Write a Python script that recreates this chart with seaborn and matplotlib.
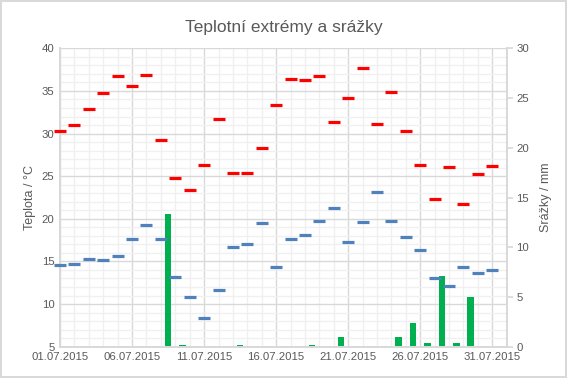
import numpy as np
import pandas as pd
import matplotlib
matplotlib.use("Agg")
import matplotlib.pyplot as plt
import seaborn as sns
from matplotlib.ticker import MultipleLocator, FixedLocator

sns.set_theme(style="white")
plt.rcParams['font.family'] = ['Liberation Sans', 'DejaVu Sans']

dates = pd.date_range("2015-07-01", "2015-07-31", freq="D")
date_labels = [d.strftime("%d.%m.%Y") for d in dates]

t_max = [30.3, 31.0, 32.9, 34.8, 36.8, 35.6, 36.9, 29.2, 24.8, 23.4,
         26.3, 31.7, 25.4, 25.4, 28.3, 33.4, 36.4, 36.3, 36.8, 31.4,
         34.2, 37.7, 31.1, 34.9, 30.3, 26.3, 22.3, 26.1, 21.7, 25.2, 26.2]
t_min = [14.6, 14.7, 15.3, 15.2, 15.6, 17.6, 19.3, 17.6, 13.2, 10.8,
         8.4, 11.6, 16.7, 17.1, 19.5, 14.4, 17.6, 18.1, 19.7, 21.3,
         17.3, 19.6, 23.1, 19.7, 17.9, 16.3, 13.1, 12.1, 14.4, 13.6, 14.0]
precip = [0, 0, 0, 0, 0, 0, 0, 13.3, 0.2, 0,
          0, 0, 0.2, 0, 0, 0, 0, 0.2, 0, 1.0,
          0, 0, 0, 1.0, 2.4, 0.4, 7.1, 0.4, 5.0, 0, 0]

df = pd.DataFrame({"day": np.arange(len(dates)), "tmax": t_max,
                   "tmin": t_min, "precip": precip})

grey = "#595959"
fig = plt.figure(figsize=(5.67, 3.78), dpi=100)
fig.patch.set_facecolor("white")
fig.patch.set_edgecolor("#D9D9D9")
fig.patch.set_linewidth(1.5)
ax = fig.add_axes([0.1058, 0.0828, 0.7879, 0.7894])
ax2 = ax.twinx()

# precipitation bars
ax2.bar(df["day"] + 0.5, df["precip"], width=0.45, color="#00B050",
        linewidth=0, zorder=2)
ax2.set_ylim(0, 30)
ax2.yaxis.set_major_locator(MultipleLocator(5))

# temperature dashes
ax.set_zorder(ax2.get_zorder() + 1)
ax.patch.set_visible(False)
sns.scatterplot(data=df, x="day", y="tmax", marker="_", s=72, linewidth=2.3,
                color="#FF0000", ax=ax, clip_on=False, zorder=3, legend=False)
sns.scatterplot(data=df, x="day", y="tmin", marker="_", s=72, linewidth=2.3,
                color="#4F81BD", ax=ax, clip_on=False, zorder=3, legend=False)

ax.set_xlim(0, 31)
ax.set_ylim(5, 40)
ax.yaxis.set_major_locator(MultipleLocator(5))
ax.yaxis.set_minor_locator(MultipleLocator(1))
major_x = list(range(0, 31, 5))
ax.xaxis.set_major_locator(FixedLocator(major_x))
ax.xaxis.set_minor_locator(MultipleLocator(1))
ax.set_xticklabels([date_labels[i] for i in major_x])

# grid drawn on the lower (bar) axes so it sits behind bars
ax.grid(False)
for x in range(0, 32):
    ax2.axvline(x, color="#D9D9D9" if x % 5 == 0 else "#F0F0F0", lw=1.0, zorder=0)
for yv in range(5, 41):
    y2 = (yv - 5) / 35 * 30
    ax2.axhline(y2, color="#D9D9D9" if yv % 5 == 0 else "#F0F0F0", lw=1.0, zorder=0)

ax.set_xlabel("")
ax.set_ylabel("Teplota / °C", color=grey, fontsize=9)
ax2.set_ylabel("Srážky / mm", color=grey, fontsize=9, rotation=90, labelpad=8)
ax.set_title("Teplotní extrémy a srážky", color=grey, fontsize=12.5, pad=12)

for a in (ax, ax2):
    for s in a.spines.values():
        s.set_color("#D9D9D9")
    a.spines["top"].set_visible(False)
ax.tick_params(axis="both", which="both", length=0, colors=grey, labelsize=8.2, pad=4)
ax2.tick_params(axis="y", which="major", length=4, color="#D9D9D9", labelcolor=grey,
                labelsize=8.2, pad=3)
ax2.tick_params(axis="x", length=0)

fig.savefig("out.png", dpi=100, facecolor=fig.get_facecolor(), edgecolor=fig.get_edgecolor())
